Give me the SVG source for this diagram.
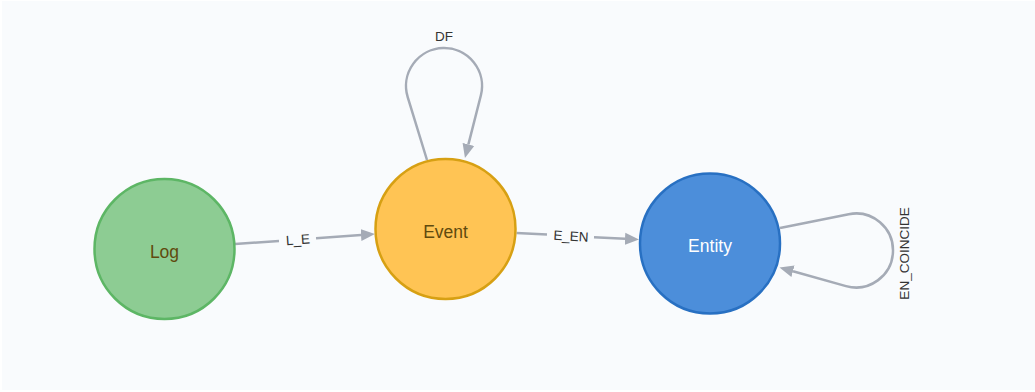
<svg xmlns="http://www.w3.org/2000/svg" width="1035" height="392" viewBox="0 0 1035 392">
  <style>
    .node-label { font-family: "Liberation Sans", Arial, sans-serif; font-size: 17.5px; text-anchor: middle; }
    .edge { fill: none; stroke: #a5abb6; stroke-width: 2.5; }
    .edge-label { font-family: "Liberation Sans", Arial, sans-serif; font-size: 13.5px; fill: #333333; text-anchor: middle; }
  </style>
  <defs>
    <marker id="arrow" markerUnits="userSpaceOnUse" viewBox="0 -7 16 14" markerWidth="16" markerHeight="14" refX="0" refY="0" orient="auto">
      <path d="M0,-6 L14,0 L0,6 Z" fill="#a5abb6"/>
    </marker>
  </defs>

  <!-- canvas -->
  <rect x="0" y="0" width="1035" height="392" fill="#ffffff"/>
  <rect x="2" y="1" width="1033" height="389" fill="#f9fbfd"/>

  <!-- relationships -->
  <g id="connectors">
    <g id="edge-L_E">
      <path class="edge" d="M235,244 L279,240.9"/>
      <path class="edge" d="M316,238.3 L361,235.1" marker-end="url(#arrow)"/>
      <text class="edge-label" x="298" y="244.3" transform="rotate(-4.1 298 239.5)">L_E</text>
    </g>
    <g id="edge-E_EN">
      <path class="edge" d="M516.5,233 L547,234.6"/>
      <path class="edge" d="M594,237.2 L625,238.8" marker-end="url(#arrow)"/>
      <text class="edge-label" x="571" y="240.8" transform="rotate(3.1 571 236)">E_EN</text>
    </g>
    <g id="edge-DF">
      <path class="edge" d="M427,160 L407.7,97.2 A38,38 0 1 1 480.9,95.3 L468.4,144.4" marker-end="url(#arrow)"/>
      <text class="edge-label" x="444" y="41">DF</text>
    </g>
    <g id="edge-EN_COINCIDE">
      <path class="edge" d="M780,228 L848.7,214.2 A37,37 0 1 1 846,286.1 L793,271.3" marker-end="url(#arrow)"/>
      <text class="edge-label" transform="translate(904,253.5) rotate(-90)" x="0" y="4.8">EN_COINCIDE</text>
    </g>
  </g>

  <!-- nodes -->
  <g id="node-log">
    <circle cx="164.5" cy="249" r="70" fill="#8dcc93" stroke="#5db665" stroke-width="2.5"/>
    <text class="node-label" x="164.5" y="258" fill="#604a0e">Log</text>
  </g>
  <g id="node-event">
    <circle cx="445.5" cy="229" r="70" fill="#ffc454" stroke="#d7a013" stroke-width="2.5"/>
    <text class="node-label" x="445.5" y="238" fill="#604a0e">Event</text>
  </g>
  <g id="node-entity">
    <circle cx="710" cy="243.5" r="70" fill="#4c8eda" stroke="#2870c2" stroke-width="2.5"/>
    <text class="node-label" x="710" y="251.5" fill="#ffffff">Entity</text>
  </g>
</svg>
